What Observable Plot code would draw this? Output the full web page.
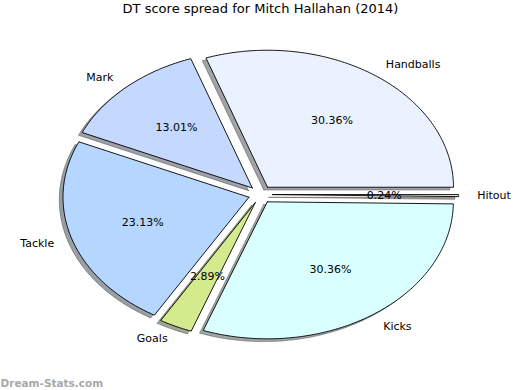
<!DOCTYPE html>
<html><head><meta charset="utf-8">
<script src="https://cdn.jsdelivr.net/npm/d3@7"></script>
<script src="https://cdn.jsdelivr.net/npm/@observablehq/plot@0.6"></script>
<style>body{margin:0;background:#fff}</style>
</head><body><div id="chart"></div>
<script>
const title = "DT score spread for Mitch Hallahan (2014)";
const labels = ["Handballs", "Mark", "Tackle", "Goals", "Kicks", "Hitout"];
const percents = [30.36, 13.01, 23.13, 2.89, 30.36, 0.24];
const colors = ["#eaf1ff", "#c5d9ff", "#b4d6ff", "#d3eb8c", "#daffff", "#e6e6f0"];
const explode = [0.065, 0.065, 0.065, 0.065, 0.065, 0.065];
const watermark = "Dream-Stats.com";

const total = d3.sum(percents);
let start = 0;
const wedges = labels.map((label, i) => {
  const t1 = start, t2 = start + percents[i] / total * 2 * Math.PI;
  start = t2;
  const mid = (t1 + t2) / 2;
  const c = d3.rgb(colors[i]);
  return {
    label, pct: percents[i], color: colors[i], t1, t2, mid,
    ox: explode[i] * Math.cos(mid), oy: explode[i] * Math.sin(mid),
    shadow: d3.rgb(c.r * 0.3, c.g * 0.3, c.b * 0.3).formatHex()
  };
});

function outline(w, dx, dy) {
  const n = Math.max(2, Math.ceil((w.t2 - w.t1) / (Math.PI / 180)));
  const cx = w.ox + dx, cy = w.oy + dy;
  const pts = [{x: cx, y: cy}];
  for (let k = 0; k <= n; k++) {
    const t = w.t1 + (w.t2 - w.t1) * k / n;
    pts.push({x: cx + Math.cos(t), y: cy + Math.sin(t)});
  }
  pts.push({x: cx, y: cy});
  return pts.map(p => ({...p, label: w.label, color: w.color, shadow: w.shadow}));
}

const shadowPts = wedges.flatMap(w => outline(w, -0.02, -0.02));
const wedgePts = wedges.flatMap(w => outline(w, 0, 0));
const labelPts = wedges.map(w => ({
  label: w.label,
  x: w.ox + 1.1 * Math.cos(w.mid),
  y: w.oy + 1.1 * Math.sin(w.mid)
}));
const pctPts = wedges.map(w => ({
  text: w.pct.toFixed(2) + "%",
  x: w.ox + 0.6 * Math.cos(w.mid),
  y: w.oy + 0.6 * Math.sin(w.mid)
}));

const font = "DejaVu Sans, sans-serif";
const chart = Plot.plot({
  width: 520, height: 390,
  margin: 0,
  style: {background: "#fff", fontFamily: font},
  x: {domain: [-1, 1], range: [74, 446], axis: null},
  y: {domain: [-1, 1], range: [331, 57], axis: null},
  color: {type: "identity"},
  marks: [
    Plot.line(shadowPts, {x: "x", y: "y", z: "label", fill: "shadow", fillOpacity: 0.5, stroke: "shadow", strokeOpacity: 0.5, strokeWidth: 0.9}),
    Plot.line(wedgePts, {x: "x", y: "y", z: "label", fill: "color", stroke: "#000", strokeWidth: 0.9}),
    Plot.text(labelPts.filter(d => d.x >= 0), {x: "x", y: "y", text: "label", textAnchor: "start", fontSize: 11, fill: "#000"}),
    Plot.text(labelPts.filter(d => d.x < 0), {x: "x", y: "y", text: "label", textAnchor: "end", fontSize: 11, fill: "#000"}),
    Plot.text(pctPts, {x: "x", y: "y", text: "text", fontSize: 11, fill: "#000"}),
    Plot.text([title], {frameAnchor: "top", dy: 3, fontSize: 13, fill: "#000"}),
    Plot.text([watermark], {frameAnchor: "bottom-left", dx: 0, dy: -4, fontSize: 10.5, fontWeight: "bold", fill: "#a8a8a8", textAnchor: "start"})
  ]
});
document.getElementById("chart").append(chart);
</script>
</body></html>
